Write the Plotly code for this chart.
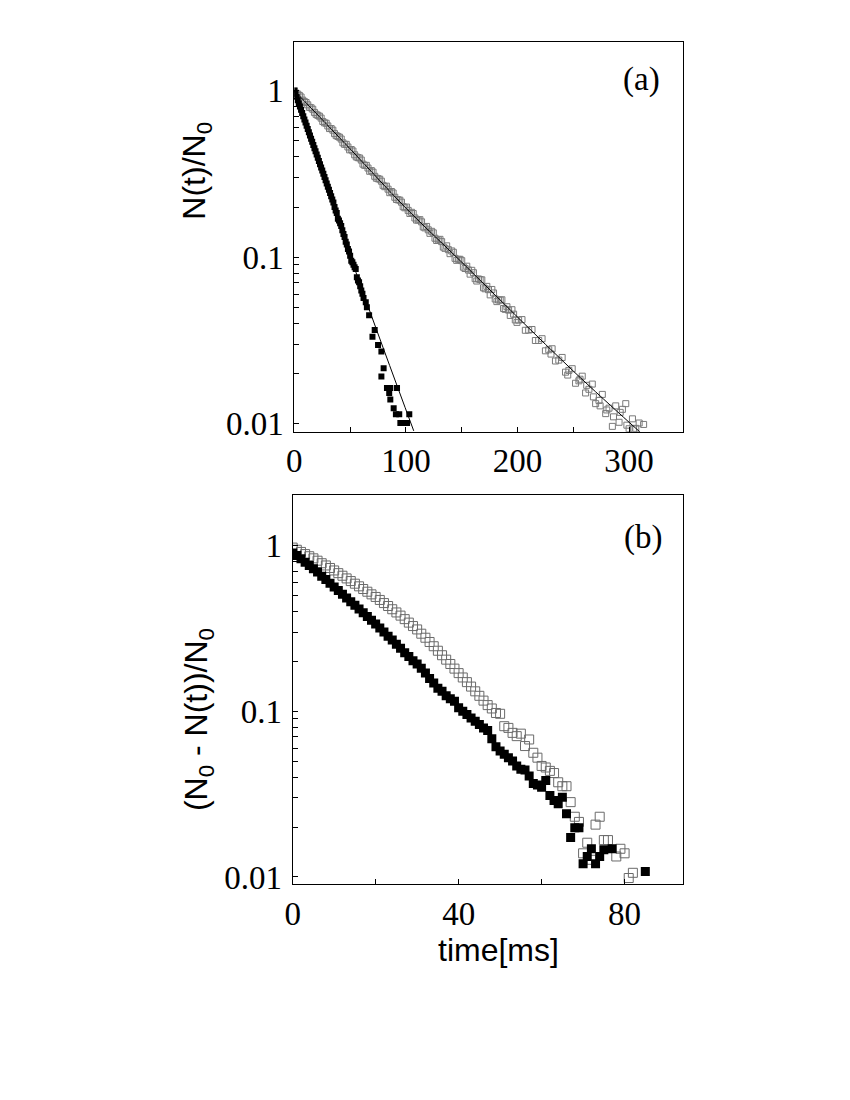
import plotly.graph_objects as go

# ---- panel (a): N(t)/N0 ----
ta_open = [0, 3, 6, 9, 12, 15, 18, 21, 24, 27, 30, 33, 36, 39, 42, 45, 48, 51, 54, 57,
           60, 63, 66, 69, 72, 75, 78, 81, 84, 87, 90, 93, 96, 99, 102, 105, 108, 111, 114, 117,
           120, 123, 126, 129, 132, 135, 138, 141, 144, 147, 150, 153, 156, 159, 162, 165, 168, 171, 174, 177,
           180, 183, 186, 189, 192, 195, 198, 201, 204, 207, 210, 213, 216, 219, 222, 225, 228, 231, 234, 237,
           240, 243, 246, 249, 252, 255, 258, 261, 264, 267, 270, 273, 276, 279, 282, 285, 288, 291, 294, 297,
           300, 303, 306, 309, 313,
           230, 245, 256, 262, 268, 274, 280, 286, 292, 298, 304]
na_open = [1.000, 0.953, 0.916, 0.859, 0.822, 0.789, 0.740, 0.711, 0.684, 0.641,
           0.614, 0.592, 0.552, 0.531, 0.512, 0.476, 0.459, 0.443, 0.412, 0.396,
           0.383, 0.356, 0.343, 0.331, 0.306, 0.296, 0.286, 0.265, 0.256, 0.248,
           0.229, 0.221, 0.214, 0.198, 0.191, 0.186, 0.172, 0.167, 0.163, 0.150,
           0.146, 0.143, 0.130, 0.127, 0.124, 0.113, 0.111, 0.109, 0.0984, 0.0971,
           0.0953, 0.0855, 0.0837, 0.0834, 0.0743, 0.0740, 0.0731, 0.0646, 0.0638, 0.0640,
           0.0561, 0.0553, 0.0555, 0.0486, 0.0481, 0.0484, 0.0420, 0.0419, 0.0422, 0.0364,
           0.0365, 0.0368, 0.0316, 0.0316, 0.0324, 0.0274, 0.0278, 0.0282, 0.0238, 0.0241,
           0.0250, 0.0204, 0.0209, 0.0214, 0.0175, 0.0181, 0.0193, 0.0153, 0.0161, 0.0173,
           0.0132, 0.0138, 0.0150, 0.0115, 0.0124, 0.00964, 0.0128, 0.0102, 0.0122, 0.0132,
           0.00933, 0.0107, 0.00938, 0.0101, 0.0099,
           0.0262, 0.0196, 0.0185, 0.0170, 0.0145, 0.0128, 0.0121, 0.0110, 0.0117, 0.0098, 0.0093]
# in-between points of the same run (the band is dense)
ta_open2 = [1.5, 4.5, 7.5, 10.5, 13.5, 16.5, 19.5, 22.5, 25.5, 28.5, 31.5, 34.5, 37.5, 40.5,
            43.5, 46.5, 49.5, 52.5, 55.5, 58.5, 61.5, 64.5, 67.5, 70.5, 73.5, 76.5, 79.5, 82.5,
            85.5, 88.5, 91.5, 94.5, 97.5, 100.5, 103.5, 106.5, 109.5, 112.5, 115.5, 118.5, 121.5,
            124.5, 127.5, 130.5, 133.5, 136.5, 139.5, 142.5, 145.5, 148.5, 151.5, 154.5, 157.5,
            160.5, 163.5, 166.5, 169.5, 172.5, 175.5, 178.5, 181.5, 184.5, 187.5, 190.5, 193.5,
            196.5, 199.5]
na_open2 = [0.966, 0.936, 0.877, 0.849, 0.794, 0.773, 0.721, 0.702, 0.653, 0.637, 0.592, 0.579,
            0.537, 0.525, 0.486, 0.476, 0.441, 0.434, 0.400, 0.394, 0.362, 0.356, 0.328, 0.324,
            0.298, 0.294, 0.270, 0.267, 0.244, 0.243, 0.222, 0.220, 0.201, 0.200, 0.183, 0.183,
            0.167, 0.168, 0.152, 0.153, 0.139, 0.140, 0.126, 0.128, 0.115, 0.117, 0.105, 0.107,
            0.0957, 0.0971, 0.0871, 0.0883, 0.0791, 0.0807, 0.0719, 0.0733, 0.0655, 0.0668,
            0.0594, 0.0610, 0.0541, 0.0553, 0.0492, 0.0504, 0.0447, 0.0455, 0.0406]

ta_full = list(range(0, 63)) + [64, 65, 67, 70, 72, 75, 78, 78, 80, 83, 85, 86, 86, 89, 91, 92, 94, 95, 98, 101, 103]
na_full = [1.000, 0.957, 0.916, 0.875, 0.838, 0.802, 0.767, 0.735, 0.702, 0.671,
           0.643, 0.615, 0.589, 0.562, 0.538, 0.515, 0.493, 0.472, 0.451, 0.432,
           0.413, 0.395, 0.378, 0.361, 0.346, 0.331, 0.317, 0.303, 0.290, 0.277,
           0.265, 0.254, 0.243, 0.232, 0.222, 0.213, 0.200, 0.191, 0.184, 0.170,
           0.166, 0.160, 0.154, 0.145, 0.138, 0.132, 0.124, 0.119, 0.112, 0.108,
           0.102, 0.0953, 0.0933, 0.0902, 0.0871, 0.0849, 0.0759, 0.0724, 0.0708, 0.0668,
           0.0631, 0.0603, 0.0569,
           0.0537, 0.0501, 0.0448, 0.0333, 0.0365, 0.0297, 0.0271, 0.0192, 0.0215, 0.0164,
           0.0153, 0.0164, 0.0140, 0.0124, 0.0114, 0.0164, 0.0114, 0.0101, 0.0101, 0.0101, 0.0114]

# fitted curves of panel (a)
fit_open_t = [0, 50, 100, 150, 200, 250, 300, 315]
fit_open_n = [1.0, 0.447, 0.197, 0.0933, 0.0437, 0.0207, 0.0102, 0.0083]
fit_full_t = [0, 30, 61, 107]
fit_full_n = [1.0, 0.251, 0.063, 0.00906]

# ---- panel (b): (N0 - N(t))/N0 ----
tb_open = list(range(0, 77)) + [78, 79, 80, 81, 82]
nb_open = [0.973, 0.944, 0.916, 0.889, 0.863, 0.838, 0.811, 0.783, 0.759, 0.733,
           0.708, 0.682, 0.658, 0.634, 0.611, 0.589, 0.568, 0.547, 0.527, 0.508,
           0.490, 0.470, 0.450, 0.432, 0.413, 0.395, 0.378, 0.360, 0.343, 0.327,
           0.312, 0.294, 0.278, 0.262, 0.247, 0.232, 0.218, 0.205, 0.193, 0.181,
           0.170, 0.160, 0.150, 0.141, 0.132, 0.124, 0.116, 0.109, 0.104, 0.0977,
           0.0966, 0.0813, 0.0794, 0.0741, 0.0708, 0.0733, 0.0617, 0.0676, 0.0562, 0.0525,
           0.0468, 0.0458, 0.0437, 0.0424, 0.0373, 0.0353, 0.0353, 0.0283, 0.0231, 0.0215,
           0.0139, 0.0161, 0.0127, 0.0207, 0.0231, 0.0167, 0.0167,
           0.0133, 0.0148, 0.0139, 0.00986, 0.0106]

tb_full = list(range(0, 76)) + [77, 85]
nb_full = [0.904, 0.871, 0.832, 0.794, 0.759, 0.724, 0.692, 0.653, 0.624, 0.592,
           0.562, 0.535, 0.508, 0.483, 0.459, 0.437, 0.415, 0.394, 0.374, 0.355,
           0.337, 0.318, 0.301, 0.284, 0.269, 0.254, 0.240, 0.226, 0.214, 0.202,
           0.193, 0.182, 0.170, 0.158, 0.148, 0.138, 0.132, 0.124, 0.119, 0.115,
           0.105, 0.100, 0.0955, 0.0912, 0.0871, 0.0832, 0.0794, 0.0767, 0.0684, 0.0610,
           0.0575, 0.0550, 0.0525, 0.0501, 0.0468, 0.0447, 0.0442, 0.0407, 0.0367, 0.0359,
           0.0348, 0.0382, 0.0310, 0.0290, 0.0277, 0.0303, 0.0241, 0.0173, 0.0198, 0.0198,
           0.0120, 0.0133, 0.0148, 0.0120, 0.0133, 0.0146,
           0.0148, 0.0108]

logvals = [0.01, 0.02, 0.03, 0.04, 0.05, 0.06, 0.07, 0.08, 0.09,
           0.1, 0.2, 0.3, 0.4, 0.5, 0.6, 0.7, 0.8, 0.9, 1]
logtext = ["0.01"] + [""] * 8 + ["0.1"] + [""] * 8 + ["1"]
xa_vals = [0, 50, 100, 150, 200, 250, 300]
xa_text = ["0", "", "100", "", "200", "", "300"]
xb_vals = [0, 20, 40, 60, 80]
xb_text = ["0", "", "40", "", "80"]

W, H = 850, 1100
OX, OY = 8, 8   # page body margin


def px(x):
    return (x - OX) / W


def py(y):
    return 1 - (y - OY) / H


fig = go.Figure()

gray_a = "#7a7a7a"
gray_b = "#6a6a6a"

fig.add_trace(go.Scatter(x=ta_open + ta_open2, y=na_open + na_open2, mode="markers", xaxis="x", yaxis="y",
                         marker=dict(symbol="square-open", size=6, color=gray_a, line=dict(width=1))))
fig.add_trace(go.Scatter(x=ta_full, y=na_full, mode="markers", xaxis="x", yaxis="y",
                         marker=dict(symbol="square", size=6, color="black", line=dict(width=0))))
fig.add_trace(go.Scatter(x=fit_open_t, y=fit_open_n, mode="lines", xaxis="x", yaxis="y",
                         line=dict(color="black", width=1, shape="spline")))
fig.add_trace(go.Scatter(x=fit_full_t, y=fit_full_n, mode="lines", xaxis="x", yaxis="y",
                         line=dict(color="black", width=1, shape="spline")))

fig.add_trace(go.Scatter(x=tb_open, y=nb_open, mode="markers", xaxis="x2", yaxis="y2",
                         marker=dict(symbol="square-open", size=9, color=gray_b, line=dict(width=1))))
fig.add_trace(go.Scatter(x=tb_full, y=nb_full, mode="markers", xaxis="x2", yaxis="y2",
                         marker=dict(symbol="square", size=9, color="black", line=dict(width=0))))

tickfont = dict(family="Liberation Serif", size=33, color="black")
common = dict(showline=True, linecolor="black", linewidth=1.2, mirror=True,
              ticks="inside", ticklen=5, tickwidth=1, tickcolor="black",
              showgrid=False, zeroline=False, tickfont=tickfont)

fig.update_layout(
    width=W, height=H,
    margin=dict(l=0, r=0, t=0, b=0),
    paper_bgcolor="white", plot_bgcolor="white",
    showlegend=False,
    xaxis=dict(domain=[px(289), px(681)], range=[0, 348], anchor="y",
               tickvals=xa_vals, ticktext=xa_text, **common),
    yaxis=dict(domain=[py(436), py(42.7)], type="log", range=[-2.048, 0.29], anchor="x",
               tickvals=logvals, ticktext=logtext, ticklabelstandoff=3, **common),
    xaxis2=dict(domain=[px(287.3), px(681)], range=[0, 94], anchor="y2",
                tickvals=xb_vals, ticktext=xb_text, **common),
    yaxis2=dict(domain=[py(893.3), py(500)], type="log", range=[-2.045, 0.305], anchor="x2",
                tickvals=logvals, ticktext=logtext, ticklabelstandoff=3, **common),
)

sans = dict(family="Liberation Sans", size=32, color="black")
serif = dict(family="Liberation Serif", size=33, color="black")
ann = dict(xref="paper", yref="paper", showarrow=False, xanchor="center", yanchor="middle")
fig.add_annotation(text="N(t)/N<sub>0</sub>", x=px(190), y=py(172), textangle=-90, font=sans, **ann)
fig.add_annotation(text="(N<sub>0</sub> - N(t))/N<sub>0</sub>", x=px(193), y=py(727), textangle=-90,
                   font=sans, **ann)
fig.add_annotation(text="time[ms]", x=px(495), y=py(960), font=sans, **ann)
fig.add_annotation(text="(a)", x=px(639), y=py(80), font=serif, **ann)
fig.add_annotation(text="(b)", x=px(641), y=py(543), font=serif, **ann)

fig.write_html("out.html")
